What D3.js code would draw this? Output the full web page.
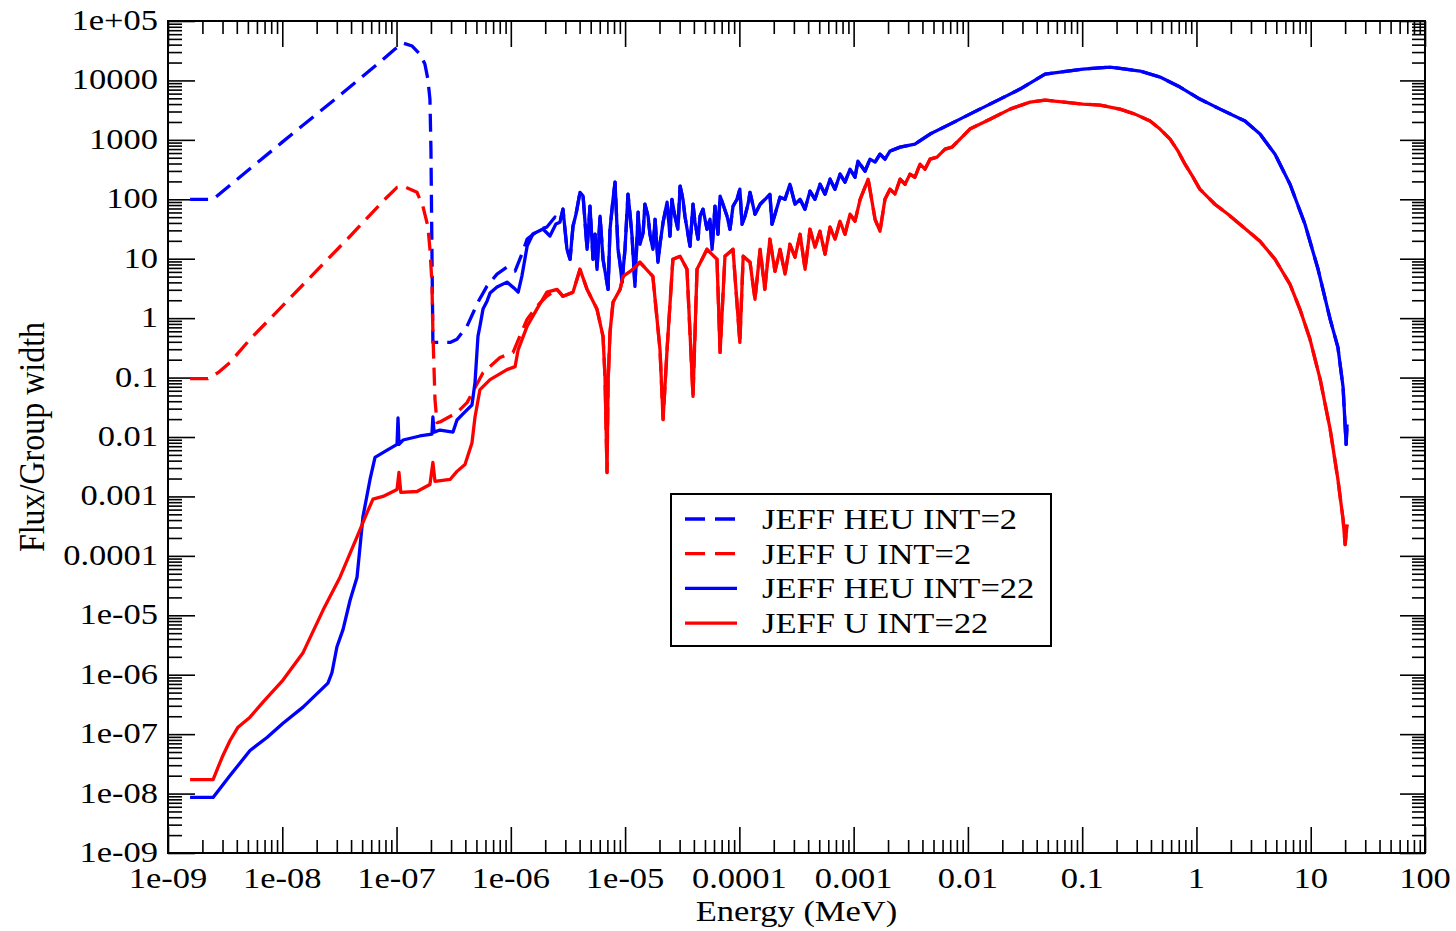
<!DOCTYPE html>
<html>
<head>
<meta charset="utf-8">
<script src="https://cdn.jsdelivr.net/npm/d3@7"></script>
<style>
  body { margin: 0; background: #fff; }
  svg { display: block; }
</style>
</head>
<body>
<div id="container"></div>
<script>
// Flux per group width vs energy, JEFF HEU / U, INT=2 vs INT=22
// values as [energy MeV, flux/group width]

// below ~2.5e-6 MeV the four curves differ
const heuInt2Low = [
  [1.56e-9, 100], [2.48e-9, 100], [1.0e-8, 916], [3.2e-8, 5660], [7.16e-8, 20400],
  [9.7e-8, 33800], [1.14e-7, 42600], [1.37e-7, 37900], [1.6e-7, 27800], [1.77e-7, 18900],
  [1.88e-7, 10500], [1.96e-7, 4850], [2.0e-7, 698], [2.04e-7, 14.4], [2.08e-7, 0.391],
  [2.94e-7, 0.39], [3.38e-7, 0.443], [4.14e-7, 0.733], [5.16e-7, 1.86], [6.19e-7, 3.46],
  [7.57e-7, 5.51], [9.26e-7, 7.23], [1.09e-6, 6.19], [1.25e-6, 12.0], [1.39e-6, 21.4],
  [1.8e-6, 31.6], [2.07e-6, 34.1], [2.44e-6, 50.3]
];

const uInt2Low = [
  [1.56e-9, 0.096], [2.24e-9, 0.096], [2.74e-9, 0.121], [3.49e-9, 0.18], [5.22e-9, 0.44],
  [1.015e-8, 1.64], [2.01e-8, 6.38], [3.92e-8, 23.9], [7.61e-8, 92.9], [1.01e-7, 159],
  [1.14e-7, 166], [1.51e-7, 131], [1.7e-7, 76.4], [1.88e-7, 35.2], [1.96e-7, 14.4],
  [2.04e-7, 4.01], [2.08e-7, 0.581], [2.17e-7, 0.0426], [2.26e-7, 0.0175], [2.4e-7, 0.0179],
  [3.38e-7, 0.0257], [4.14e-7, 0.0379], [5.71e-7, 0.121], [8.04e-7, 0.217], [1.045e-6, 0.264],
  [1.2e-6, 0.497], [1.39e-6, 0.96], [1.69e-6, 1.59], [2.07e-6, 2.35]
];

const heuInt22Low = [
  [1.56e-9, 8.6e-9], [2.48e-9, 8.6e-9], [3.49e-9, 2.01e-8], [5.22e-9, 5.3e-8], [7.35e-9, 8.8e-8],
  [1.015e-8, 1.53e-7], [1.52e-8, 2.85e-7], [2.51e-8, 7.23e-7], [2.72e-8, 1.08e-6], [3.01e-8, 2.96e-6],
  [3.4e-8, 5.73e-6], [3.92e-8, 1.79e-5], [4.51e-8, 4.37e-5], [4.79e-8, 1.42e-4], [5.08e-8, 4.54e-4],
  [5.86e-8, 1.93e-3], [6.48e-8, 4.54e-3], [7.93e-8, 5.73e-3], [1.01e-7, 7.5e-3], [1.03e-7, 0.0209],
  [1.05e-7, 7.5e-3], [1.14e-7, 8.9e-3], [1.6e-7, 0.0104], [2.04e-7, 0.0112], [2.08e-7, 0.0217],
  [2.13e-7, 0.0121], [2.4e-7, 0.0131], [3.12e-7, 0.0121], [3.38e-7, 0.0193], [3.97e-7, 0.0264],
  [4.57e-7, 0.0346], [4.86e-7, 0.0824], [5.16e-7, 0.497], [5.37e-7, 0.733], [5.71e-7, 1.42],
  [6.19e-7, 1.93], [6.58e-7, 2.64], [7.57e-7, 3.33], [9.26e-7, 4.04], [1.09e-6, 3.08],
  [1.16e-6, 2.74], [1.25e-6, 5.1], [1.39e-6, 16.3], [1.56e-6, 26], [1.91e-6, 31.6],
  [2.2e-6, 24.1], [2.48e-6, 38.4]
];

const uInt22Low = [
  [1.56e-9, 1.72e-8], [2.48e-9, 1.72e-8], [2.97e-9, 4.04e-8], [3.49e-9, 7.81e-8], [4.1e-9, 1.31e-7],
  [5.22e-9, 1.93e-7], [6.78e-9, 3.46e-7], [1.015e-8, 8.12e-7], [1.52e-8, 2.35e-6], [2.27e-8, 1.21e-5],
  [3.2e-8, 4.37e-5], [4.51e-8, 2.09e-4], [5.51e-8, 5.3e-4], [6.22e-8, 9.0e-4], [7.61e-8, 1.0e-3],
  [1.01e-7, 1.31e-3], [1.05e-7, 2.54e-3], [1.09e-7, 1.17e-3], [1.51e-7, 1.21e-3], [1.96e-7, 1.59e-3],
  [2.08e-7, 3.74e-3], [2.17e-7, 1.79e-3], [2.94e-7, 1.93e-3], [3.38e-7, 2.64e-3], [3.97e-7, 3.46e-3],
  [4.57e-7, 7.92e-3], [4.86e-7, 0.0217], [5.37e-7, 0.0628], [6.58e-7, 0.0925], [9.26e-7, 0.136],
  [1.09e-6, 0.153], [1.16e-6, 0.296], [1.39e-6, 0.733], [1.69e-6, 1.42], [2.07e-6, 2.74]
];

// above ~2.5e-6 MeV both interpolation laws give the same curve per material
const heuHigh = [
  [2.69e-6, 41.1], [2.86e-6, 68.1], [3.1e-6, 14.4], [3.3e-6, 9.8], [3.5e-6, 35.2],
  [3.72e-6, 56.1], [4.03e-6, 131], [4.29e-6, 113], [4.65e-6, 14.4], [4.93e-6, 76.4],
  [5.24e-6, 9.8], [5.46e-6, 25.8], [5.68e-6, 6.64], [6.04e-6, 51.9], [6.41e-6, 9.8],
  [7.1e-6, 3.05], [7.38e-6, 31.3], [7.84e-6, 100], [8.17e-6, 194], [8.67e-6, 14.4],
  [9.03e-6, 8.38], [9.4e-6, 4.01], [9.98e-6, 14.4], [1.06e-5, 122], [1.105e-5, 56.1],
  [1.15e-5, 23.9], [1.22e-5, 3.43], [1.3e-5, 60.6], [1.35e-5, 17.5], [1.44e-5, 27.9],
  [1.49e-5, 82.6], [1.59e-5, 51.9], [1.65e-5, 25.8], [1.75e-5, 14.4], [1.83e-5, 46.1],
  [1.94e-5, 8.71], [2.02e-5, 17.5], [2.15e-5, 41.1], [2.33e-5, 89.3], [2.47e-5, 23.9],
  [2.57e-5, 100], [2.73e-5, 51.9], [2.9e-5, 31.3], [3.03e-5, 166], [3.21e-5, 100],
  [3.34e-5, 51.9], [3.55e-5, 25.8], [3.7e-5, 16.2], [3.93e-5, 82.6], [4.09e-5, 41.1],
  [4.35e-5, 21.3], [4.53e-5, 51.9], [4.81e-5, 68.1], [5.21e-5, 31.3], [5.54e-5, 46.1],
  [5.77e-5, 14.4], [6.12e-5, 76.4], [6.5e-5, 25.8], [6.78e-5, 113], [7.19e-5, 82.6],
  [7.8e-5, 51.9], [8.28e-5, 31.3], [8.8e-5, 76.4], [9.54e-5, 100], [1.01e-4, 148],
  [1.055e-4, 38], [1.12e-4, 51.9], [1.19e-4, 82.6], [1.24e-4, 131], [1.37e-4, 56.1],
  [1.52e-4, 82.6], [1.68e-4, 100], [1.85e-4, 122], [1.93e-4, 38], [2.05e-4, 56.1],
  [2.27e-4, 108], [2.51e-4, 100], [2.77e-4, 179], [3.07e-4, 82.6], [3.4e-4, 100],
  [3.75e-4, 68.1], [4.15e-4, 137], [4.59e-4, 100], [5.08e-4, 179], [5.62e-4, 122],
  [6.21e-4, 218], [6.87e-4, 148], [7.6e-4, 265], [8.4e-4, 194], [9.3e-4, 321],
  [1.028e-3, 235], [1.09e-3, 438], [1.26e-3, 297], [1.39e-3, 473], [1.54e-3, 422],
  [1.7e-3, 574], [1.88e-3, 473], [2.08e-3, 646], [2.55e-3, 754], [3.44e-3, 847],
  [4.66e-3, 1250], [6.97e-3, 1840], [0.0104, 2710], [0.0191, 4850], [0.0286, 7150],
  [0.0473, 12800], [0.1016, 15500], [0.175, 16800], [0.321, 14400], [0.48, 11400],
  [0.718, 7730], [1.07, 4850], [1.61, 3290], [2.66, 2070], [3.6, 1250],
  [4.87, 574], [6.59, 179], [8.91, 38], [11.6, 6.64], [14.8, 0.955],
  [17.3, 0.322], [19.2, 0.0683], [20.4, 0.0075], [20.8, 0.0163]
];

const uHigh = [
  [2.54e-6, 3.05], [2.86e-6, 2.33], [3.5e-6, 2.72], [4.03e-6, 6.64], [4.65e-6, 3.05],
  [5.68e-6, 1.41], [6.41e-6, 0.493], [6.67e-6, 0.1045], [6.95e-6, 0.00252], [7.1e-6, 0.0828],
  [7.38e-6, 0.577], [7.84e-6, 1.85], [9.04e-6, 3.05], [9.6e-6, 5.06], [1.17e-5, 6.64],
  [1.35e-5, 8.71], [1.75e-5, 5.06], [2.02e-5, 0.298], [2.15e-5, 0.0197], [2.33e-5, 0.298],
  [2.62e-5, 9.8], [3.03e-5, 11], [3.48e-5, 6.64], [3.93e-5, 0.0482], [4.26e-5, 6.64],
  [5.21e-5, 14.4], [6.37e-5, 9.8], [6.78e-5, 0.265], [7.48e-5, 11], [8.8e-5, 14.4],
  [1.01e-4, 0.391], [1.08e-4, 11], [1.24e-4, 8.71], [1.37e-4, 2.07], [1.52e-4, 14.4],
  [1.67e-4, 3.05], [1.85e-4, 21.3], [2.05e-4, 6.14], [2.27e-4, 14.4], [2.51e-4, 5.51],
  [2.77e-4, 17.5], [3.07e-4, 10.6], [3.4e-4, 25.8], [3.76e-4, 6.64], [4.15e-4, 31.3],
  [4.59e-4, 15.6], [5.08e-4, 29], [5.62e-4, 11.9], [6.21e-4, 33.9], [6.87e-4, 21.3],
  [7.6e-4, 42.7], [8.4e-4, 25.8], [9.3e-4, 56.1], [1.028e-3, 42.7], [1.14e-3, 100],
  [1.34e-3, 218], [1.54e-3, 46.1], [1.7e-3, 29], [1.88e-3, 100], [2.08e-3, 148],
  [2.3e-3, 122], [2.55e-3, 218], [2.82e-3, 179], [3.11e-3, 265], [3.44e-3, 235],
  [3.81e-3, 390], [4.21e-3, 321], [4.66e-3, 473], [5.37e-3, 512], [6.31e-3, 698],
  [7.26e-3, 754], [8.53e-3, 1030], [0.0104, 1520], [0.0156, 2230], [0.0234, 3290],
  [0.035, 4320], [0.0473, 4670], [0.1016, 4000], [0.1432, 3850], [0.214, 3290],
  [0.29, 2710], [0.393, 2070], [0.48, 1520], [0.588, 1030], [0.69, 646],
  [0.794, 390], [0.933, 235], [1.07, 148], [1.263, 108], [1.45, 82.6],
  [1.89, 56.1], [2.4, 38], [3.6, 19.7], [4.87, 9.8], [6.59, 3.71],
  [8.05, 1.41], [9.86, 0.44], [12.1, 0.0931], [14.8, 0.0134], [17.3, 0.00192],
  [19.2, 4.07e-4], [20, 1.55e-4], [20.8, 3.36e-4]
];

const seriesNames = ["JEFF HEU INT=2", "JEFF U INT=2", "JEFF HEU INT=22", "JEFF U INT=22"];
const seriesColors = ["#0000ff", "#ff0000", "#0000ff", "#ff0000"];
const seriesDashed = [true, true, false, false];

const xTickValues = [1e-9, 1e-8, 1e-7, 1e-6, 1e-5, 1e-4, 1e-3, 0.01, 0.1, 1, 10, 100];
const xTickLabels = ["1e-09", "1e-08", "1e-07", "1e-06", "1e-05", "0.0001", "0.001", "0.01", "0.1", "1", "10", "100"];
const yTickValues = [1e-9, 1e-8, 1e-7, 1e-6, 1e-5, 1e-4, 1e-3, 0.01, 0.1, 1, 10, 100, 1000, 1e4, 1e5];
const yTickLabels = ["1e-09", "1e-08", "1e-07", "1e-06", "1e-05", "0.0001", "0.001", "0.01", "0.1", "1", "10", "100", "1000", "10000", "1e+05"];

const series = [
  heuInt2Low.concat(heuHigh),
  uInt2Low.concat(uHigh),
  heuInt22Low.concat(heuHigh),
  uInt22Low.concat(uHigh)
];

const width = 1456, height = 931;
const box = { left: 168, right: 1425, top: 21, bottom: 853 };
const font = "'Liberation Serif', 'Times New Roman', serif";
const fs = 30, sx = 1.15;

const svg = d3.select("#container").append("svg")
  .attr("width", width).attr("height", height)
  .style("background", "#fff");

const x = d3.scaleLog().domain([1e-9, 100]).range([box.left, box.right]);
const y = d3.scaleLog().domain([1e-9, 1e5]).range([box.bottom, box.top]);

// minor ticks at 2..9 of each decade
const minors = (lo, hi) => {
  const out = [];
  for (let e = lo; e < hi; e++) for (let k = 2; k <= 9; k++) out.push(k * Math.pow(10, e));
  return out;
};
const xMinor = minors(-9, 2);
const yMinor = minors(-9, 5);

function tickAxis(axisFn, scale, vals, size, tx, ty) {
  const g = svg.append("g")
    .attr("transform", `translate(${tx},${ty})`)
    .call(axisFn(scale).tickValues(vals).tickSize(size).tickFormat(""));
  g.select(".domain").remove();
  g.selectAll("line").attr("stroke", "#000").attr("stroke-width", 1.6);
}

tickAxis(d3.axisBottom, x, xTickValues, -26, 0, box.bottom);
tickAxis(d3.axisBottom, x, xMinor, -13, 0, box.bottom);
tickAxis(d3.axisTop, x, xTickValues, -26, 0, box.top);
tickAxis(d3.axisTop, x, xMinor, -13, 0, box.top);
tickAxis(d3.axisLeft, y, yTickValues, -27, box.left, 0);
tickAxis(d3.axisLeft, y, yMinor, -14, box.left, 0);
tickAxis(d3.axisRight, y, yTickValues, -25, box.right, 0);
tickAxis(d3.axisRight, y, yMinor, -13, box.right, 0);

// frame
svg.append("rect")
  .attr("x", box.left).attr("y", box.top)
  .attr("width", box.right - box.left).attr("height", box.bottom - box.top)
  .attr("fill", "none").attr("stroke", "#000").attr("stroke-width", 2);

// tick labels
svg.append("g").selectAll("text").data(xTickValues).join("text")
  .attr("transform", (d) => `translate(${x(d)},${box.bottom + 35}) scale(${sx},1)`)
  .attr("text-anchor", "middle")
  .style("font-family", font).style("font-size", fs + "px")
  .attr("fill", "#000")
  .text((d, i) => xTickLabels[i]);

svg.append("g").selectAll("text").data(yTickValues).join("text")
  .attr("transform", (d) => `translate(${box.left - 10},${y(d) + 9}) scale(${sx},1)`)
  .attr("text-anchor", "end")
  .style("font-family", font).style("font-size", fs + "px")
  .attr("fill", "#000")
  .text((d, i) => yTickLabels[i]);

// axis titles
svg.append("text")
  .attr("transform", `translate(${(box.left + box.right) / 2},921) scale(${sx},1)`)
  .attr("text-anchor", "middle")
  .style("font-family", font).style("font-size", fs + "px")
  .text("Energy (MeV)");

svg.append("text")
  .attr("transform", `translate(44,${(box.top + box.bottom) / 2}) scale(${sx},1) rotate(-90)`)
  .attr("text-anchor", "middle")
  .style("font-family", font).style("font-size", "32px")
  .text("Flux/Group width");

// curves
const line = d3.line().x((d) => x(d[0])).y((d) => y(d[1]));
svg.append("g").selectAll("path").data(series).join("path")
  .attr("d", line)
  .attr("fill", "none")
  .attr("stroke", (d, i) => seriesColors[i])
  .attr("stroke-width", 3.3)
  .attr("stroke-linejoin", "round")
  .attr("stroke-dasharray", (d, i) => (seriesDashed[i] ? "18,9" : null));

// legend
const leg = svg.append("g").attr("transform", "translate(671,494)");
leg.append("rect")
  .attr("width", 380).attr("height", 152)
  .attr("fill", "#fff").attr("stroke", "#000").attr("stroke-width", 2);
const rows = leg.selectAll("g.row").data(seriesNames).join("g")
  .attr("class", "row")
  .attr("transform", (d, i) => `translate(0,${25 + i * 34.7})`);
rows.append("line")
  .attr("x1", 14).attr("x2", 66)
  .attr("stroke", (d, i) => seriesColors[i])
  .attr("stroke-width", 3.3)
  .attr("stroke-dasharray", (d, i) => (seriesDashed[i] ? "20,10" : null));
rows.append("text")
  .attr("transform", `translate(91,10) scale(${sx},1)`)
  .style("font-family", font).style("font-size", fs + "px")
  .text((d) => d);
</script>
</body>
</html>
